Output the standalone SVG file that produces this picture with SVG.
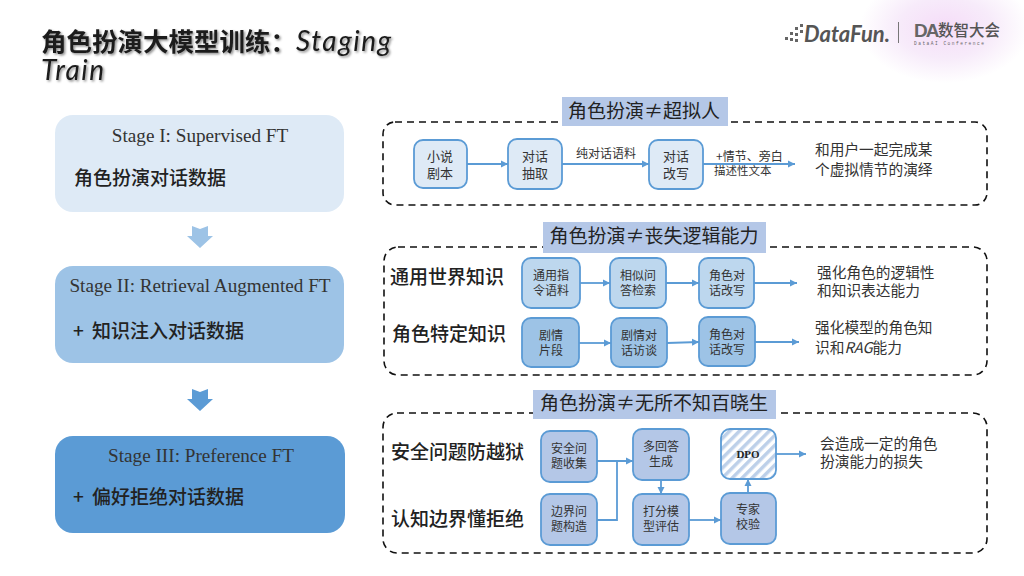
<svg xmlns="http://www.w3.org/2000/svg" width="1024" height="576" viewBox="0 0 1024 576">
<style>
text{font-family:"Noto Sans CJK SC","Liberation Sans",sans-serif;fill:#262626}
.serif{font-family:"Liberation Serif","Noto Sans CJK SC",serif;font-size:19.2px;text-anchor:middle;fill:#333}
.stagecn{font-size:19px;font-weight:500;fill:#222}
.dash{fill:#fff;stroke:#111;stroke-width:1.6;stroke-dasharray:7 5}
.tag{fill:#b4c7e7}
.tagt{font-size:19px;text-anchor:middle;fill:#222}
.side{font-size:19px;font-weight:500;fill:#222}
.note{font-size:14.7px;fill:#333}
.n{stroke:#5b9bd5;stroke-width:1.8}
.big{font-size:13px;text-anchor:middle;fill:#333}
.small{font-size:12px;text-anchor:middle;fill:#333}
.c{fill:none;stroke:#5b9bd5;stroke-width:1.8;marker-end:url(#ah)}
.l{fill:none;stroke:#5b9bd5;stroke-width:1.8}
</style>
<defs>
<marker id="ah" markerUnits="userSpaceOnUse" markerWidth="8" markerHeight="8" refX="7" refY="4" orient="auto"><path d="M0 0.5L7 4L0 7.5Z" fill="#5b9bd5"/></marker>
<radialGradient id="glow"><stop offset="0" stop-color="#f5dcf8"/><stop offset="0.55" stop-color="#f7ebfa"/><stop offset="1" stop-color="#fff"/></radialGradient>
<pattern id="hatch" width="7" height="7" patternUnits="userSpaceOnUse" patternTransform="rotate(45)"><rect width="7" height="7" fill="#fff"/><rect width="3.5" height="7" fill="#bdd0e9"/></pattern>
<filter id="sh" x="-5%" y="-20%" width="110%" height="140%"><feDropShadow dx="1.5" dy="1.5" stdDeviation="1" flood-color="#000" flood-opacity="0.45"/></filter>
</defs>
<rect width="1024" height="576" fill="#fff"/>
<ellipse cx="945" cy="28" rx="85" ry="55" fill="url(#glow)"/>

<g id="title" filter="url(#sh)">
<text font-size="25.5" font-weight="700" style="fill:#1a1a1a"><tspan x="41" y="51">角色扮演大模型训练：</tspan><tspan font-family="Lato,sans-serif" font-style="italic" font-weight="400" font-size="28" letter-spacing="1.5">Staging</tspan><tspan x="41" y="80" font-family="Lato,sans-serif" font-style="italic" font-weight="400" font-size="28" letter-spacing="1.5">Train</tspan></text>
</g>

<g id="logo">
<g fill="#666"><rect x="785" y="37" width="3" height="3"/><rect x="790" y="32" width="3" height="3"/><rect x="790" y="38" width="3" height="3"/><rect x="795" y="27" width="3" height="3"/><rect x="795" y="33" width="3" height="3"/><rect x="795" y="39" width="3" height="3"/><rect x="800" y="24" width="3" height="3"/><rect x="800" y="30" width="3" height="3"/></g>
<text x="804" y="42" style="font-family:Lato,sans-serif;font-style:italic;font-weight:700;font-size:22px;fill:#555">DataFun.</text>
<rect x="898" y="22" width="1" height="21" fill="#777"/>
<text x="914" y="37" style="font-family:'Liberation Sans',sans-serif;font-weight:700;font-size:19px;letter-spacing:-2px;fill:#666">DA</text>
<text x="938" y="36" font-size="15.5" font-weight="500" style="fill:#555">数智大会</text>
<text x="914" y="44.5" style="font-family:'Liberation Mono',monospace;font-size:4.5px;letter-spacing:1.5px;fill:#666">DataAI Conference</text>
</g>

<g id="stage1"><rect x="55" y="115" width="289" height="97" rx="18" fill="#deeaf6"/><text class="serif" x="200" y="142">Stage I: Supervised FT</text><text class="stagecn" x="74" y="185">角色扮演对话数据</text></g>
<g id="stage2"><rect x="55" y="266" width="289" height="97" rx="18" fill="#9dc3e6"/><text class="serif" x="200" y="292">Stage II: Retrieval Augmented FT</text><text class="stagecn" x="73" y="338">+<tspan x="92">知识注入对话数据</tspan></text></g>
<g id="stage3"><rect x="55" y="436" width="290" height="97" rx="18" fill="#5b9bd5"/><text class="serif" x="201" y="462">Stage III: Preference FT</text><text class="stagecn" x="73" y="504">+<tspan x="92">偏好拒绝对话数据</tspan></text></g>
<path id="down1" d="M192 226L200 229L208 226V236H213L200 248L187 236H192Z" fill="#9dc3e6"/>
<path id="down2" d="M192 389L200 392L208 389V399H213L200 411L187 399H192Z" fill="#5b9bd5"/>

<g id="panel1"><rect class="dash" x="383" y="122" width="604" height="83" rx="12"/><rect class="tag" x="562" y="97" width="166" height="29"/><text class="tagt" x="644" y="118">角色扮演≠超拟人</text></g>
<g id="panel2"><rect class="dash" x="384" y="247" width="603" height="128" rx="14"/><rect class="tag" x="543" y="222" width="223" height="31"/><text class="tagt" x="654" y="243">角色扮演≠丧失逻辑能力</text></g>
<g id="panel3"><rect class="dash" x="383" y="413" width="604" height="140" rx="14"/><rect class="tag" x="533" y="390" width="243" height="29"/><text class="tagt" x="654" y="410">角色扮演≠无所不知百晓生</text></g>

<g id="connectors">
<path class="c" d="M467 164H508"/>
<path class="c" d="M562 164H649"/>
<path class="c" d="M703 164H795"/>
<path class="c" d="M579 283H610"/>
<path class="c" d="M666 283H699"/>
<path class="c" d="M754 283H797"/>
<path class="c" d="M579 343H611"/>
<path class="c" d="M667 343L699 342"/>
<path class="c" d="M755 342H799"/>
<path class="l" d="M597 461H633"/>
<path class="c" d="M597 520H617V461H633"/>
<path class="c" d="M661 480V494"/>
<path class="c" d="M689 520H721"/>
<path class="c" d="M748 493V479"/>
<path class="c" d="M776 454H806"/>
</g>

<g id="n1" class="n"><rect x="414" y="140" width="53" height="48" rx="9" fill="#deeaf6"/></g>
<text class="big"><tspan x="440" y="161">小说</tspan><tspan x="440" y="178">剧本</tspan></text>
<g id="n2" class="n"><rect x="508" y="139" width="54" height="50" rx="9" fill="#deeaf6"/></g>
<text class="big"><tspan x="535" y="161">对话</tspan><tspan x="535" y="178">抽取</tspan></text>
<g id="n3" class="n"><rect x="649" y="140" width="54" height="49" rx="9" fill="#deeaf6"/></g>
<text class="big"><tspan x="676" y="161">对话</tspan><tspan x="676" y="178">改写</tspan></text>
<text class="small" x="606" y="158">纯对话语料</text>
<text class="small" style="text-anchor:start"><tspan x="716" y="161">+情节、旁白</tspan><tspan x="714" y="175" font-size="11.5">描述性文本</tspan></text>
<text class="note"><tspan x="815" y="155">和用户一起完成某</tspan><tspan x="815" y="175">个虚拟情节的演绎</tspan></text>

<text class="side" x="390" y="284">通用世界知识</text>
<text class="side" x="392" y="341">角色特定知识</text>
<g id="n4" class="n"><rect x="522" y="258" width="58" height="50" rx="9" fill="#bdd7ee"/></g>
<text class="small"><tspan x="551" y="280">通用指</tspan><tspan x="551" y="295">令语料</tspan></text>
<g id="n5" class="n"><rect x="610" y="258" width="56" height="50" rx="9" fill="#bdd7ee"/></g>
<text class="small"><tspan x="638" y="280">相似问</tspan><tspan x="638" y="295">答检索</tspan></text>
<g id="n6" class="n"><rect x="699" y="258" width="55" height="50" rx="9" fill="#bdd7ee"/></g>
<text class="small"><tspan x="727" y="280">角色对</tspan><tspan x="727" y="295">话改写</tspan></text>
<text class="note"><tspan x="817" y="278">强化角色的逻辑性</tspan><tspan x="817" y="296">和知识表达能力</tspan></text>
<g id="n7" class="n"><rect x="522" y="318" width="57" height="49" rx="9" fill="#9dc3e6"/></g>
<text class="small"><tspan x="551" y="340">剧情</tspan><tspan x="551" y="355">片段</tspan></text>
<g id="n8" class="n"><rect x="611" y="318" width="56" height="49" rx="9" fill="#9dc3e6"/></g>
<text class="small"><tspan x="639" y="340">剧情对</tspan><tspan x="639" y="355">话访谈</tspan></text>
<g id="n9" class="n"><rect x="699" y="317" width="56" height="49" rx="9" fill="#9dc3e6"/></g>
<text class="small"><tspan x="727" y="339">角色对</tspan><tspan x="727" y="354">话改写</tspan></text>
<text class="note"><tspan x="815" y="333">强化模型的角色知</tspan><tspan x="815" y="353">识和<tspan font-style="italic">RAG</tspan>能力</tspan></text>

<text class="side" x="391" y="459">安全问题防越狱</text>
<text class="side" x="391" y="526">认知边界懂拒绝</text>
<g id="n10" class="n"><rect x="541" y="431" width="56" height="51" rx="9" fill="#b4c7e7"/></g>
<text class="small"><tspan x="569" y="453">安全问</tspan><tspan x="569" y="468">题收集</tspan></text>
<g id="n11" class="n"><rect x="541" y="494" width="56" height="51" rx="9" fill="#b4c7e7"/></g>
<text class="small"><tspan x="569" y="516">边界问</tspan><tspan x="569" y="531">题构造</tspan></text>
<g id="n12" class="n"><rect x="633" y="429" width="56" height="51" rx="9" fill="#b4c7e7"/></g>
<text class="small"><tspan x="661" y="451">多回答</tspan><tspan x="661" y="466">生成</tspan></text>
<g id="n13" class="n"><rect x="633" y="494" width="56" height="51" rx="9" fill="#b4c7e7"/></g>
<text class="small"><tspan x="661" y="516">打分模</tspan><tspan x="661" y="531">型评估</tspan></text>
<g id="n14" class="n"><rect x="721" y="429" width="55" height="50" rx="9" fill="url(#hatch)"/></g>
<text x="748" y="458" text-anchor="middle" style="font-family:'Liberation Serif',serif;font-weight:700;font-size:11px;fill:#222">DPO</text>
<g id="n15" class="n"><rect x="721" y="493" width="55" height="51" rx="9" fill="#b4c7e7"/></g>
<text class="small"><tspan x="748" y="514">专家</tspan><tspan x="748" y="529">校验</tspan></text>
<text class="note"><tspan x="820" y="449">会造成一定的角色</tspan><tspan x="820" y="467">扮演能力的损失</tspan></text>
</svg>
